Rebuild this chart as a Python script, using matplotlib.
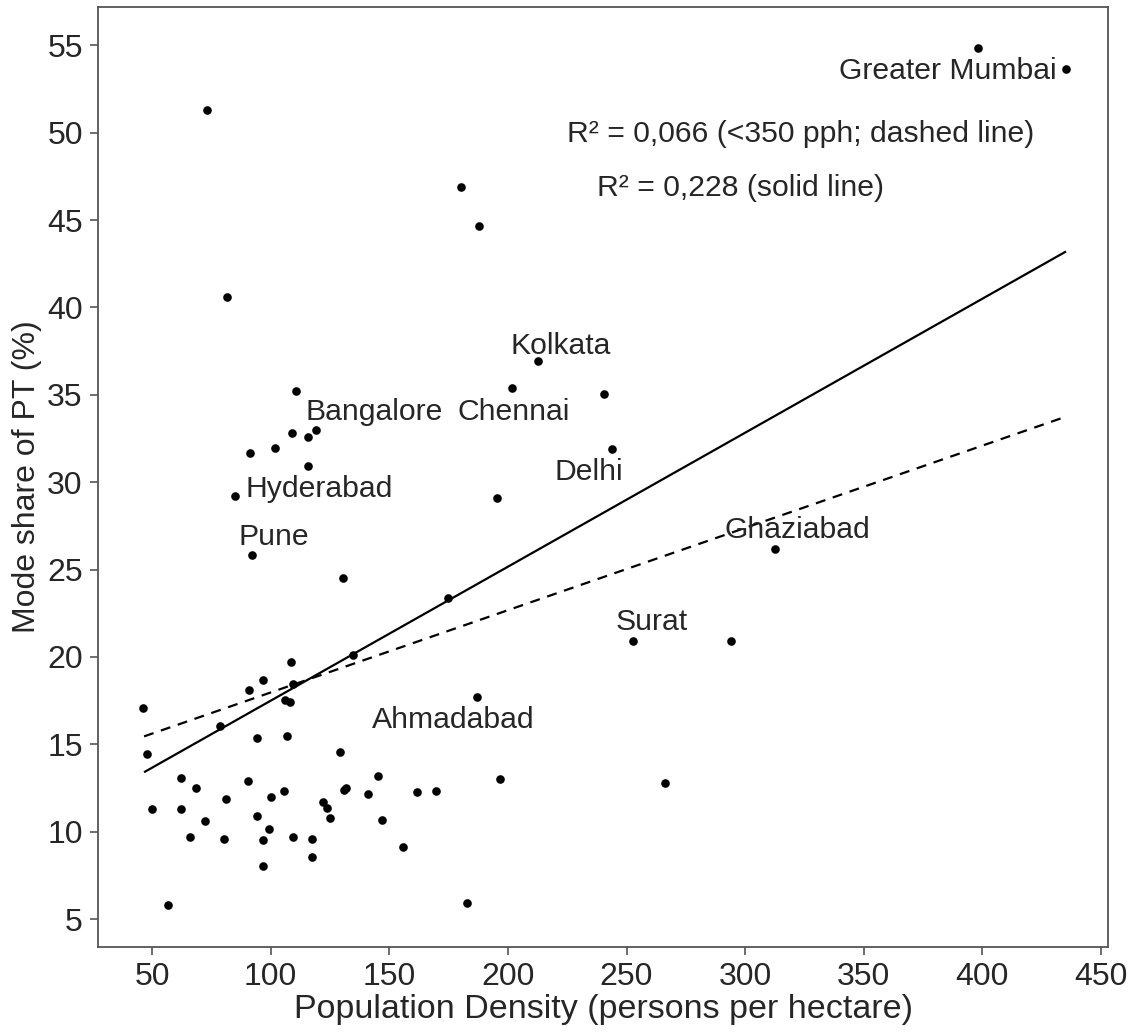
import matplotlib
matplotlib.use("Agg")
import matplotlib.pyplot as plt

plt.rcParams['font.family'] = ['Liberation Sans', 'DejaVu Sans']

# population density (pph) and public transport mode share (%) per city
density = [46.2, 47.8, 49.9, 56.6, 62.1, 62.1, 68.3, 66.0, 72.2, 78.8,
           81.0, 80.4, 90.8, 90.6, 94.1, 94.1, 96.8, 96.8, 96.8, 99.3,
           100.0, 105.4, 106.8, 106.2, 108.2, 108.7, 109.3, 109.4, 117.6, 117.6,
           134.6, 186.9, 129.0, 145.4, 130.7, 131.8, 141.2, 161.6, 169.7, 196.8,
           266.1, 122.2, 123.6, 125.0, 146.8, 155.7, 182.7, 252.6, 81.7, 110.7,
           119.1, 115.5, 108.9, 102.0, 91.2, 115.6, 85.1, 91.9, 130.4, 180.1,
           187.6, 212.6, 201.8, 240.4, 243.8, 195.6, 73.2, 174.8, 398.2, 435.3,
           312.4, 294.0]
pt_share = [17.05, 14.46, 11.30, 5.81, 13.07, 11.31, 12.51, 9.67, 10.58, 16.03,
            11.89, 9.57, 18.13, 12.89, 15.38, 10.87, 18.70, 9.50, 8.01, 10.13,
            11.98, 12.34, 15.47, 17.52, 17.39, 19.71, 18.47, 9.67, 9.57, 8.56,
            20.10, 17.69, 14.56, 13.18, 12.36, 12.49, 12.17, 12.25, 12.34, 12.99,
            12.80, 11.71, 11.37, 10.76, 10.68, 9.11, 5.90, 20.90, 40.61, 35.19,
            32.97, 32.61, 32.80, 31.96, 31.69, 30.93, 29.21, 25.81, 24.51, 46.88,
            44.66, 36.95, 35.36, 35.07, 31.89, 29.08, 51.27, 23.36, 54.86, 53.62,
            26.18, 20.92]

# fitted lines, evaluated at the ends of the density range
fit_x = [46.6, 435.3]
fit_all = [13.4, 43.2]
fit_low = [15.45, 33.75]

cities = ['Greater Mumbai', 'Kolkata', 'Bangalore', 'Chennai', 'Hyderabad',
          'Delhi', 'Pune', 'Ghaziabad', 'Surat', 'Ahmadabad']
# label anchors (x, y, horizontal alignment)
label_pos = [(431.5, 53.5, 'right'), (200.9, 37.8, 'left'), (114.5, 34.0, 'left'),
             (178.6, 34.0, 'left'), (89.2, 29.6, 'left'), (219.5, 30.6, 'left'),
             (86.3, 26.85, 'left'), (291.1, 27.25, 'left'), (245.2, 22.0, 'left'),
             (142.7, 16.37, 'left')]

r2_notes = ['R² = 0,066 (<350 pph; dashed line)', 'R² = 0,228 (solid line)']
r2_pos = [(225.0, 49.95), (237.6, 46.85)]

txt = '#262626'
fs_note = 21.7
fs_tick = 23
fs_ylab = 23
fs_xlab = 24.5

fig = plt.figure(figsize=(11.31, 10.32), dpi=100)
ax = fig.add_axes([0.0867, 0.0824, 0.893, 0.911])

ax.plot(fit_x, fit_all, color='black', lw=1.6, solid_capstyle='butt')
ax.plot(fit_x, fit_low, color='black', lw=1.6, dashes=(4.5, 3.5))
ax.plot(density, pt_share, 'o', color='black', ms=6.2, mew=0)

for name, (lx, ly, ha) in zip(cities, label_pos):
    ax.text(lx, ly, name, ha=ha, va='center', fontsize=fs_note, color=txt)
for note, (nx, ny) in zip(r2_notes, r2_pos):
    ax.text(nx, ny, note, ha='left', va='center', fontsize=fs_note, color=txt)

ax.set_xlim(27.2, 453)
ax.set_ylim(3.4, 57.2)
ax.set_xticks(range(50, 451, 50))
ax.set_yticks(range(5, 56, 5))
ax.tick_params(direction='out', length=6, width=1.2, color='#555555',
               labelsize=fs_tick, labelcolor=txt, pad=5)
for s in ax.spines.values():
    s.set_color('#555555')
    s.set_linewidth(1.3)

ax.set_xlabel('Population Density (persons per hectare)', fontsize=fs_xlab, color=txt, labelpad=1)
ax.set_ylabel('Mode share of PT (%)', fontsize=fs_ylab, color=txt, labelpad=4)

fig.savefig('out.png', dpi=100, facecolor='white')
